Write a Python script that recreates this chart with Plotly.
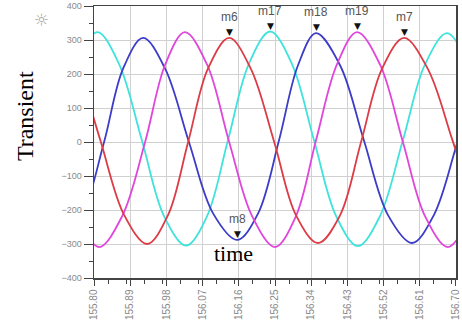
import plotly.graph_objects as go

# ---- data ----
x_ticks = [155.80, 155.89, 155.98, 156.07, 156.16, 156.25, 156.34, 156.43, 156.52, 156.61, 156.70]
x_tick_labels = ["155.80", "155.89", "155.98", "156.07", "156.16", "156.25",
                 "156.34", "156.43", "156.52", "156.61", "156.70"]
y_ticks = [-400, -300, -200, -100, 0, 100, 200, 300, 400]

t_cyan = [155.753, 155.808, 155.862, 155.919, 155.974, 156.029, 156.081, 156.133, 156.185, 156.238,
          156.292, 156.347, 156.402, 156.456, 156.511, 156.568, 156.623, 156.678, 156.732]
v_cyan = [225, 323, 230, 5, -218, -305, -218, 5, 230, 325, 230, 5, -218, -306, -218, 5, 228, 320, 225]

t_blue = [155.716, 155.770, 155.825, 155.872, 155.922, 155.977, 156.036, 156.096, 156.156, 156.208,
          156.260, 156.307, 156.352, 156.412, 156.471, 156.531, 156.591, 156.645, 156.700, 156.755]
v_blue = [-290, -215, 0, 215, 306, 215, 0, -210, -288, -210, 5, 225, 320, 225, 5, -215, -297, -215, -15, 215]

t_magenta = [155.758, 155.812, 155.870, 155.927, 155.977, 156.026, 156.081, 156.136, 156.193, 156.250,
             156.302, 156.352, 156.404, 156.454, 156.511, 156.568, 156.623, 156.680, 156.735]
v_magenta = [-218, -309, -218, 0, 228, 323, 228, 0, -218, -309, -218, 5, 228, 323, 228, 0, -218, -309, -218]

t_red = [155.763, 155.817, 155.875, 155.932, 155.984, 156.034, 156.083, 156.136, 156.190, 156.248,
         156.302, 156.357, 156.412, 156.464, 156.516, 156.571, 156.630, 156.690, 156.750]
v_red = [215, 0, -215, -300, -215, 0, 215, 306, 215, 0, -215, -297, -215, 0, 215, 306, 215, 10, -215]

marker_names = ["m6", "m17", "m18", "m19", "m7", "m8"]
marker_t = [156.136, 156.238, 156.352, 156.454, 156.571, 156.156]
marker_v = [306, 325, 320, 323, 306, -288]

series = [
    ("cyan", t_cyan, v_cyan, "#3fe3dc"),
    ("blue", t_blue, v_blue, "#3c3cc8"),
    ("magenta", t_magenta, v_magenta, "#e046dc"),
    ("red", t_red, v_red, "#dc3c46"),
]

fig = go.Figure()
for name, t, v, col in series:
    fig.add_trace(go.Scatter(x=t, y=v, mode="lines", name=name,
                             line=dict(color=col, width=1.8, shape="spline", smoothing=1.0),
                             showlegend=False, hoverinfo="skip"))

for n, t, v in zip(marker_names, marker_t, marker_v):
    fig.add_annotation(x=t, y=v, text="▼", showarrow=False, yanchor="bottom", yshift=-1,
                       font=dict(size=9, color="#111111", family="DejaVu Sans"))
    fig.add_annotation(x=t, y=v, text=n, showarrow=False, yanchor="bottom", yshift=12,
                       font=dict(size=12, color="#555555", family="Liberation Sans"))

fig.add_annotation(xref="paper", yref="paper", x=0.384, y=0.143, xanchor="center", yanchor="top",
                   text="time", showarrow=False,
                   font=dict(size=22, color="#000000", family="Liberation Serif"))
fig.add_annotation(xref="paper", yref="paper", x=-0.19, y=0.596, xanchor="center", yanchor="middle",
                   text="Transient", showarrow=False, textangle=-90,
                   font=dict(size=24, color="#000000", family="Liberation Serif"))
fig.add_annotation(xref="paper", yref="paper", x=-0.144, y=0.949, xanchor="center", yanchor="middle",
                   text="☼", showarrow=False,
                   font=dict(size=17, color="#a8a8a8", family="DejaVu Sans"))

fig.update_xaxes(range=[155.7999, 156.7001], tickvals=x_ticks, ticktext=x_tick_labels, tickangle=-90,
                 automargin=False,
                 showgrid=True, gridcolor="#d0d0d0", gridwidth=1,
                 showline=True, linecolor="#444444", linewidth=1.5, mirror=True,
                 ticks="outside", ticklen=6, tickcolor="#444444",
                 minor=dict(ticks="outside", ticklen=4, tickcolor="#444444", showgrid=False, dtick=0.045),
                 tickfont=dict(size=10, color="#8a8a8a", family="Liberation Sans Narrow, Liberation Sans"),
                 zeroline=False)
fig.update_yaxes(range=[-400, 400], tickvals=y_ticks, automargin=False,
                 showgrid=True, gridcolor="#d0d0d0", gridwidth=1,
                 showline=True, linecolor="#444444", linewidth=1.5, mirror=True,
                 ticks="outside", ticklen=9, tickcolor="#444444",
                 minor=dict(ticks="outside", ticklen=4, tickcolor="#444444", showgrid=False, dtick=50),
                 tickfont=dict(size=9, color="#8a8a8a", family="Liberation Sans"),
                 zeroline=False)

fig.update_layout(width=462, height=332, margin=dict(l=94, r=6, t=6, b=54, pad=0),
                  plot_bgcolor="#ffffff", paper_bgcolor="#ffffff", hovermode=False)

fig.write_html("out.html", config={"displayModeBar": False, "staticPlot": True},
               post_script="document.body.style.margin='0px';document.body.style.padding='0px';")
